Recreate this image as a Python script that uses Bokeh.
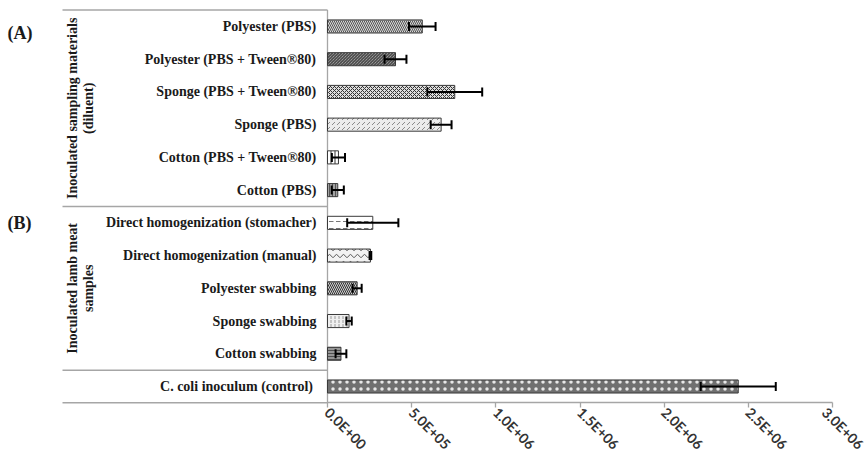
import math
from bokeh.plotting import figure
from bokeh.models import ColumnDataSource, Range1d, FixedTicker, Whisker, TeeHead
from bokeh.core.properties import value
from bokeh.embed import file_html
from bokeh.resources import INLINE

# ---------------- data ----------------
categories = [
    "Polyester (PBS)",
    "Polyester (PBS + Tween®80)",
    "Sponge (PBS + Tween®80)",
    "Sponge (PBS)",
    "Cotton (PBS + Tween®80)",
    "Cotton (PBS)",
    "Direct homogenization (stomacher)",
    "Direct homogenization (manual)",
    "Polyester swabbing",
    "Sponge swabbing",
    "Cotton swabbing",
    "C. coli inoculum  (control)",
]
means = [563e3, 404e3, 756e3, 675e3, 65e3, 61e3, 269e3, 255e3, 176e3, 128e3, 80e3, 2.44e6]
errors = [79e3, 65e3, 163e3, 62e3, 39e3, 36e3, 152e3, 5e3, 27e3, 16e3, 32e3, 223e3]
tick_values = [0, 5e5, 1e6, 1.5e6, 2e6, 2.5e6, 3e6]
tick_labels = ["0.0E+00", "5.0E+05", "1.0E+06", "1.5E+06", "2.0E+06", "2.5E+06", "3.0E+06"]
group_labels = ["Inoculated sampling materials\n(diluent)", "Inoculated lamb meat\nsamples"]
panel_labels = ["(A)", "(B)"]

# ---------------- styles ----------------
fills = ["#d9d9d9", "#bdbdbd", "#dedede", "#ececec", "#ffffff", "#a3a3a3",
         "#ffffff", "#f2f2f2", "#cfcfcf", "#efefef", "#969696", "#707070"]
hatches = ["\\", "\\", "x", ",", "|", "|", '"', "v", "\\", ":", "-", "."]
hatch_colors = ["#555555", "#2e2e2e", "#333333", "#8a8a8a", "#333333", "#555555",
                "#777777", "#555555", "#333333", "#9a9a9a", "#505050", "#e8e8e8"]
hatch_scales = [4, 3, 4, 5, 4, 3, 7, 7, 4, 4, 3, 7]

# ---------------- layout ----------------
W, H = 867, 455
N = len(categories)
pos = [N - 1 - i for i in range(N)]          # row index, top row first
ROW_PX = 32.73
TOP_PX = 9.6
ZERO_PX = 327
PX_PER_UNIT = 505 / 3e6
x_start = -ZERO_PX / PX_PER_UNIT
x_end = (W - ZERO_PX) / PX_PER_UNIT
y_end = (N - 0.5) + TOP_PX / ROW_PX
y_start = y_end - H / ROW_PX
SEP_LEFT = -265 / PX_PER_UNIT

p = figure(
    width=W, height=H,
    x_range=Range1d(x_start, x_end), y_range=Range1d(y_start, y_end),
    output_backend="svg", toolbar_location=None,
    y_axis_location=None,
    min_border_left=0, min_border_right=0, min_border_top=0, min_border_bottom=0,
)
p.xgrid.visible = False
p.ygrid.visible = False
p.outline_line_color = None
p.background_fill_color = "white"
p.border_fill_color = "white"

ax = p.xaxis[0]
ax.fixed_location = -0.5
ax.ticker = FixedTicker(ticks=tick_values)
ax.major_label_overrides = dict(zip(tick_values, tick_labels))
ax.bounds = (tick_values[0], tick_values[-1])
ax.major_label_orientation = -math.pi / 4
ax.axis_line_color = "#a6a6a6"
ax.axis_line_width = 1.3
ax.major_tick_line_color = "#a6a6a6"
ax.major_tick_line_width = 1.3
ax.major_tick_out = 5
ax.major_tick_in = 0
ax.minor_tick_line_color = None
ax.major_label_text_font = "Lato"
ax.major_label_text_font_style = "bold"
ax.major_label_text_font_size = "14px"
ax.major_label_text_color = "#333333"
ax.major_label_standoff = 2

src = ColumnDataSource(dict(
    y=pos, cat=categories, val=means,
    lo=[m - e for m, e in zip(means, errors)],
    hi=[m + e for m, e in zip(means, errors)],
    fill=fills, hatch=hatches, hcolor=hatch_colors, hscale=hatch_scales,
))

# vertical axis line at x = 0
p.segment(x0=[0], x1=[0], y0=[-0.5], y1=[N - 0.5], line_color="#a6a6a6", line_width=1.3)

p.hbar(y="y", left=0, right="val", height=0.4, source=src,
       fill_color="fill", line_color="#3a3a3a", line_width=1,
       hatch_pattern="hatch", hatch_color="hcolor", hatch_scale="hscale", hatch_weight=1)

wh = Whisker(source=src, base="y", lower="lo", upper="hi", dimension="width",
             line_color="black", line_width=2, level="annotation",
             upper_head=TeeHead(size=9, line_width=2, line_color="black"),
             lower_head=TeeHead(size=9, line_width=2, line_color="black"))
p.add_layout(wh)

# category labels
p.text(x=[0] * N, y=pos, text=categories,
       x_offset=-11, text_align="right", text_baseline="middle",
       text_font=value("Liberation Serif"), text_font_style="bold",
       text_font_size="14px", text_color="#1a1a1a")

# separators (top, A|B, B|control, bottom)
sep_y = [pos[0] + 0.5, pos[5] - 0.5, pos[11] + 0.5, pos[11] - 0.5]
p.segment(x0=[SEP_LEFT] * 4, x1=[0] * 4, y0=sep_y, y1=sep_y,
          line_color="#a6a6a6", line_width=1.5)

# group labels (rotated)
p.text(x=[0, 0], y=[pos[3] + 0.5, pos[8]], text=group_labels,
       x_offset=-247, angle=math.pi / 2, text_align="center", text_baseline="middle",
       text_font=value("Liberation Serif"), text_font_style="bold",
       text_font_size="14px", text_color="#1a1a1a", text_line_height=1.1)

# panel labels
p.text(x=[0, 0], y=[pos[0] - 0.2, pos[6]], text=panel_labels,
       x_offset=-320, text_align="left", text_baseline="middle",
       text_font=value("Liberation Serif"), text_font_style="bold",
       text_font_size="18px", text_color="#1a1a1a")

open("out.html", "w").write(file_html(p, INLINE))
